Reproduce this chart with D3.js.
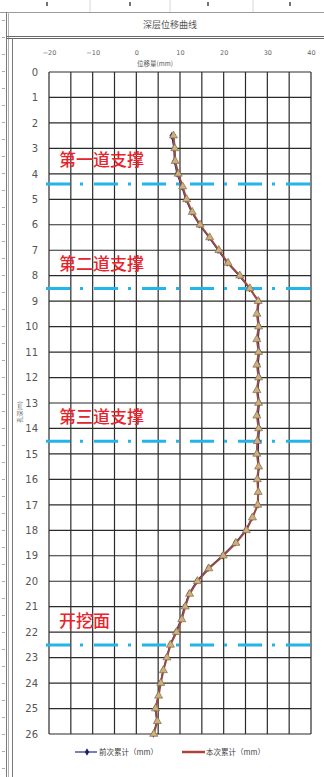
<!DOCTYPE html>
<html><head><meta charset="utf-8">
<script src="https://cdn.jsdelivr.net/npm/d3@7"></script>
<style>html,body{margin:0;padding:0;background:#fff;}svg{display:block;}</style>
</head><body>
<script>
// ---- data ----
const title = "深层位移曲线";
const xLabel = "位移量(mm)";
const yLabel = "孔深(m)";
const seriesNames = ["前次累计（mm）", "本次累计（mm）"];
const xTicks = [-20, -10, 0, 10, 20, 30, 40];
const yTicks = [0,1,2,3,4,5,6,7,8,9,10,11,12,13,14,15,16,17,18,19,20,21,22,23,24,25,26];
const depths = [2.5,3,3.5,4,4.5,5,5.5,6,6.5,7,7.5,8,8.5,9,9.5,10,10.5,11,11.5,12,12.5,13,13.5,14,14.5,15,15.5,16,16.5,17,17.5,18,18.5,19,19.5,20,20.5,21,21.5,22,22.5,23,23.5,24,24.5,25,25.5,26];
const current = [8.5,8.8,8.9,9.6,10.6,11.5,12.8,14.6,16.8,18.9,21.0,23.7,26.0,27.9,27.6,28.0,27.6,28.0,27.6,28.0,27.6,28.0,27.6,28.0,27.7,27.6,28.0,27.7,27.9,27.8,26.6,25.2,22.8,19.9,16.6,14.0,12.2,11.2,10.4,9.2,7.8,7.0,6.2,5.6,5.1,4.4,4.8,4.0];
const previous = [8.1,8.6,8.7,9.3,10.4,11.3,12.6,14.4,16.6,18.7,20.8,23.5,25.9,28.1,27.8,28.2,27.9,28.2,27.9,28.2,27.8,28.2,27.9,28.2,28.0,27.9,28.1,27.9,28.0,27.9,26.5,25.0,22.6,19.7,16.4,13.8,12.0,11.0,10.2,9.0,7.7,6.9,6.1,5.5,5.0,4.3,4.7,3.9];
const supportNames = ["第一道支撑", "第二道支撑", "第三道支撑", "开挖面"];
const supportDepths = [4.4, 8.5, 14.5, 22.5];

// ---- layout ----
const W = 324, H = 777;
const svg = d3.select("body").append("svg").attr("width", W).attr("height", H);
svg.append("rect").attr("width", W).attr("height", H).attr("fill", "#fff");

const x = d3.scaleLinear().domain([-20, 40]).range([49, 311]);
const y = d3.scaleLinear().domain([0, 26]).range([72, 734]);

// outer frame (spreadsheet look)
const frame = svg.append("g").attr("fill", "none");
frame.append("line").attr("x1", 0).attr("x2", W).attr("y1", 12.5).attr("y2", 12.5).attr("stroke", "#9a9a9a");
[47, 130, 208, 290].forEach(px => frame.append("line").attr("x1", px).attr("x2", px).attr("y1", 2).attr("y2", 6).attr("stroke", "#444").attr("stroke-width", 1.5));
[90, 170, 253].forEach(px => frame.append("line").attr("x1", px).attr("x2", px).attr("y1", 0).attr("y2", 12).attr("stroke", "#d8d8d8"));
frame.append("line").attr("x1", 6.5).attr("x2", 6.5).attr("y1", 12).attr("y2", H).attr("stroke", "#7a7a7a");
frame.append("line").attr("x1", 8.5).attr("x2", 8.5).attr("y1", 12).attr("y2", H).attr("stroke", "#b0b0b0");
frame.append("line").attr("x1", 12.5).attr("x2", 12.5).attr("y1", 39).attr("y2", H).attr("stroke", "#7a7a7a");
frame.append("line").attr("x1", 6).attr("x2", W).attr("y1", 36.5).attr("y2", 36.5).attr("stroke", "#6a6a6a");
frame.append("line").attr("x1", 6).attr("x2", W).attr("y1", 38.5).attr("y2", 38.5).attr("stroke", "#6a6a6a");
for (let py = 20; py < H; py += 17) {
  frame.append("line").attr("x1", 2).attr("x2", 5).attr("y1", py + 0.5).attr("y2", py + 0.5).attr("stroke", "#aaa");
}

svg.append("text").attr("x", 170).attr("y", 28).attr("text-anchor", "middle")
  .attr("font-family", "Noto Sans CJK SC").attr("font-size", 9).attr("fill", "#555").text(title);

// grid
const grid = svg.append("g").attr("stroke", "#2b2b2b").attr("stroke-width", 1.2);
grid.selectAll("line.v").data(d3.range(-20, 41, 5)).join("line")
  .attr("x1", d => x(d)).attr("x2", d => x(d)).attr("y1", y(0)).attr("y2", y(26));
grid.selectAll("line.h").data(yTicks).join("line")
  .attr("x1", x(-20)).attr("x2", x(40)).attr("y1", d => y(d)).attr("y2", d => y(d));

// axes
const xAxis = svg.append("g").attr("transform", `translate(0,${y(0)})`)
  .call(d3.axisTop(x).tickValues(xTicks).tickSize(0).tickPadding(17).tickFormat(d3.format("d")));
xAxis.select(".domain").remove();
xAxis.selectAll("text").attr("font-family", "DejaVu Sans").attr("font-size", 6.5).attr("fill", "#666");
svg.append("text").attr("x", 155).attr("y", 66).attr("text-anchor", "middle")
  .attr("font-family", "Noto Sans CJK SC").attr("font-size", 6.5).attr("fill", "#555").text(xLabel);

const yAxis = svg.append("g").attr("transform", `translate(${x(-20)},0)`)
  .call(d3.axisLeft(y).tickValues(yTicks).tickSize(0).tickPadding(11).tickFormat(d3.format("d")));
yAxis.select(".domain").remove();
yAxis.selectAll("text").attr("font-family", "DejaVu Sans").attr("font-size", 10).attr("fill", "#555");
svg.append("text").attr("transform", `translate(22,412) rotate(-90)`).attr("text-anchor", "middle")
  .attr("font-family", "Noto Sans CJK SC").attr("font-size", 6).attr("fill", "#666").text(yLabel);

// support lines
svg.append("g").selectAll("line").data(supportDepths).join("line")
  .attr("x1", 46).attr("x2", 318).attr("y1", d => y(d)).attr("y2", d => y(d))
  .attr("stroke", "#23b4ea").attr("stroke-width", 3).attr("stroke-dasharray", "24,10,3,11");
svg.append("g").selectAll("text").data(supportNames).join("text")
  .attr("x", 59).attr("y", (d, i) => y(supportDepths[i]) - 18)
  .attr("font-family", "Noto Sans CJK SC").attr("font-size", 17).attr("font-weight", 500)
  .attr("fill", "#e8232b").text(d => d);

// series
const prevPts = depths.map((d, i) => [previous[i], d]);
const curPts = depths.map((d, i) => [current[i], d]);
const line = d3.line().x(d => x(d[0])).y(d => y(d[1]));
svg.append("path").datum(prevPts).attr("d", line).attr("fill", "none").attr("stroke", "#1f2a8a").attr("stroke-width", 1.2);
svg.append("g").selectAll("path").data(prevPts).join("path")
  .attr("transform", d => `translate(${x(d[0])},${y(d[1])})`)
  .attr("d", d3.symbol(d3.symbolDiamond, 16)).attr("fill", "#1a1f6e");
svg.append("path").datum(curPts).attr("d", line).attr("fill", "none").attr("stroke", "#9c4a3e").attr("stroke-width", 2);
svg.append("g").selectAll("path").data(curPts).join("path")
  .attr("transform", d => `translate(${x(d[0])},${y(d[1])})`)
  .attr("d", d3.symbol(d3.symbolTriangle, 28)).attr("fill", "#c9b07e").attr("stroke", "#8a6a42").attr("stroke-width", 0.7);

// legend
const lg = svg.append("g").attr("font-family", "Noto Sans CJK SC").attr("font-size", 7.5).attr("fill", "#444");
lg.append("line").attr("x1", 75).attr("x2", 97).attr("y1", 752).attr("y2", 752).attr("stroke", "#1f2a8a").attr("stroke-width", 1.2);
lg.append("path").attr("transform", "translate(87,752)").attr("d", d3.symbol(d3.symbolDiamond, 16)).attr("fill", "#1a1f6e");
lg.append("text").attr("x", 99).attr("y", 755).text(seriesNames[0]);
lg.append("line").attr("x1", 182).attr("x2", 205).attr("y1", 752).attr("y2", 752).attr("stroke", "#b0413e").attr("stroke-width", 2.5);
lg.append("text").attr("x", 206).attr("y", 755).text(seriesNames[1]);
</script>
</body></html>
